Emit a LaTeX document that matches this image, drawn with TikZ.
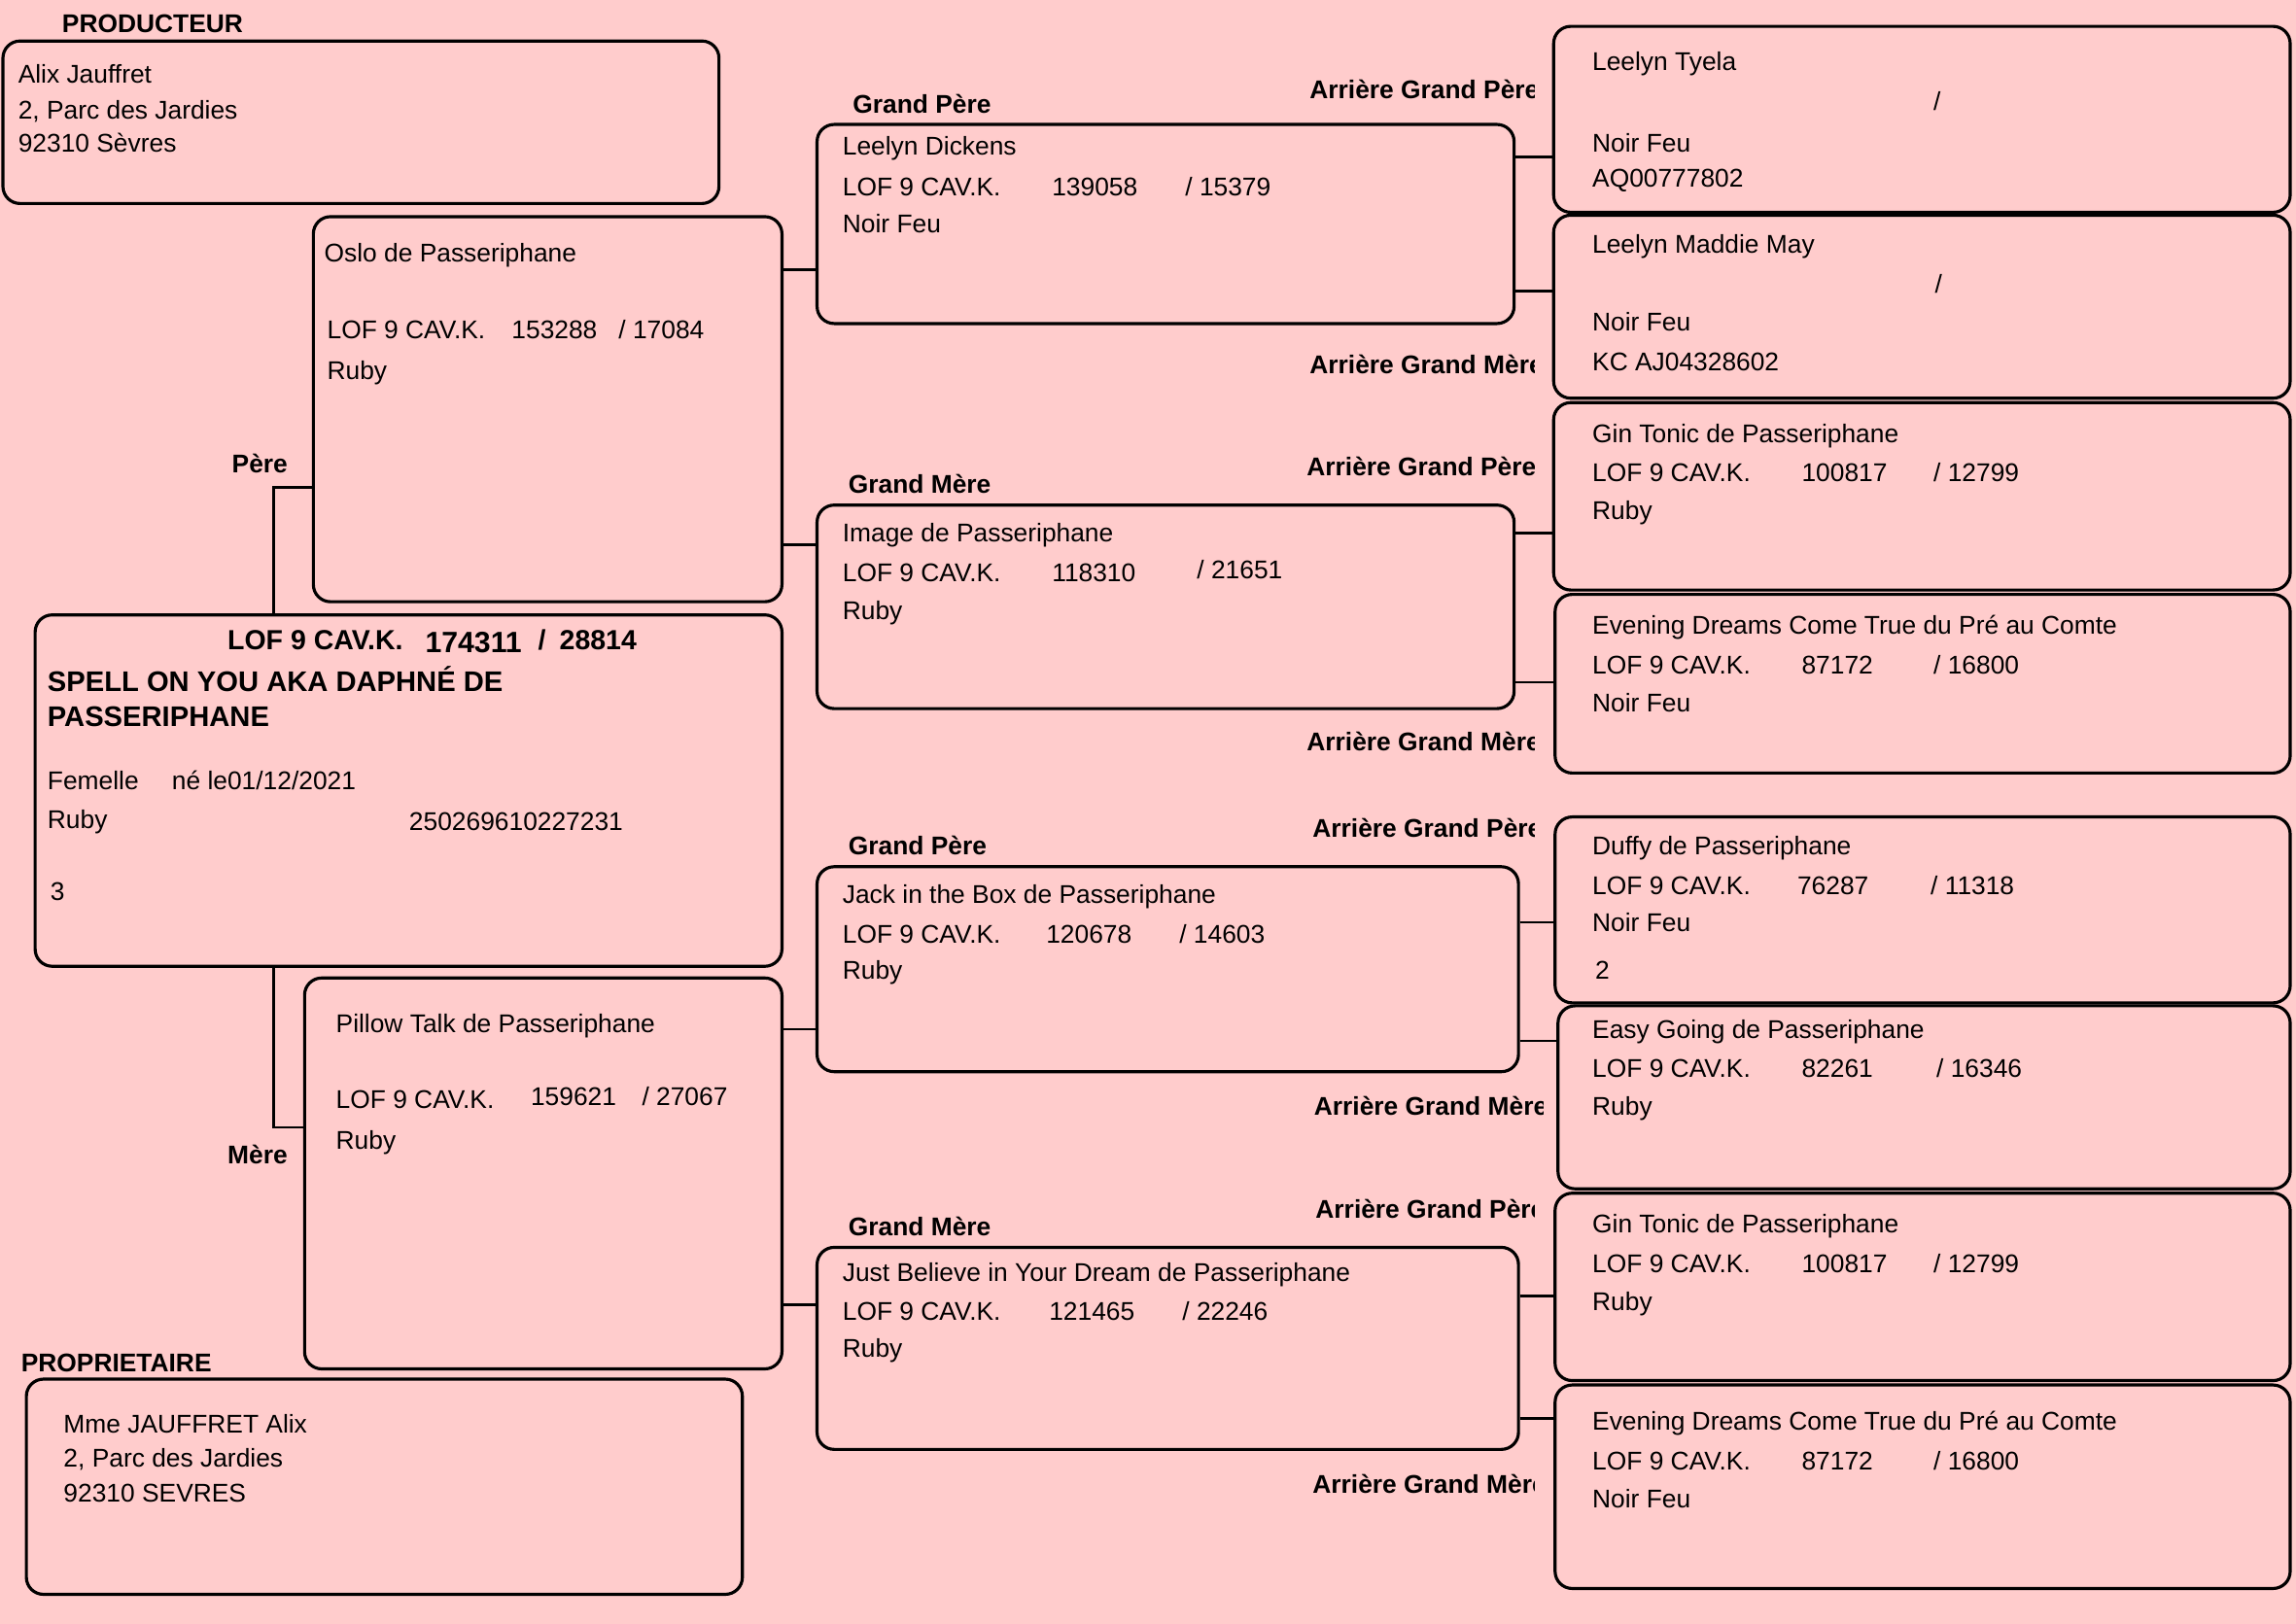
\documentclass[tikz,border=0pt]{standalone}
\usepackage{fontspec}
\setmainfont{Liberation Sans}
\usetikzlibrary{fit}
\definecolor{pinkbg}{HTML}{FFCCCC}

\begin{document}
\begin{tikzpicture}[
    x=0.015064cm, y=-0.015064cm, % units of the reference, y downwards
    box/.style={draw, line width=0.9pt, rounded corners=5pt, fill=pinkbg, inner sep=0pt}, % card of a dog
    link/.style={line width=0.8pt}, % pedigree connector
    txt/.style={anchor=base west, inner sep=0pt, yshift=-0.45pt, font=\fontsize{7.5}{9}\selectfont}, % plain line of a card
    lbl/.style={anchor=base west, inner sep=0pt, yshift=-0.45pt, font=\fontsize{7.5}{9}\selectfont\bfseries}, % heading above a card
    title/.style={anchor=base west, inner sep=0pt, yshift=-0.45pt, font=\fontsize{8.3}{10}\selectfont\bfseries} % name of the dog
]

    % Page background
    \useasboundingbox[fill=pinkbg] (0,0) rectangle (1568,1109);

    % Producer and owner
    \node[lbl] (prodLbl) at (42,21) {PRODUCTEUR};
    \node[box, fit={(2,28) (491,139)}] (prod) {};
    \node[txt] (prod1) at (12,56) {Alix Jauffret};
    \node[txt] (prod2) at (12,80) {2, Parc des Jardies};
    \node[txt] (prod3) at (12,103) {92310 Sèvres};

    \node[lbl] (ownLbl) at (14,936) {PROPRIETAIRE};
    \node[box, fit={(18,942) (507,1089)}] (own) {};
    \node[txt] (own1) at (43,978) {Mme JAUFFRET Alix};
    \node[txt] (own2) at (43,1001) {2, Parc des Jardies};
    \node[txt] (own3) at (43,1025) {92310 SEVRES};

    % The dog itself
    \node[box, fit={(24,420) (534,660)}] (subj) {};
    \node[title, font=\fontsize{8.1}{10}\selectfont\bfseries] (subjLof) at (155,443) {LOF 9 CAV.K.};
    \node[title, font=\fontsize{8.6}{10}\selectfont\bfseries] (subjNum) at (290,445) {174311};
    \node[title, font=\fontsize{8.1}{10}\selectfont\bfseries] (subjSub) at (367,443) {/\enspace 28814};
    \node[title] (subjName1) at (32,471) {SPELL ON YOU AKA DAPHNÉ DE};
    \node[title] (subjName2) at (32,495) {PASSERIPHANE};
    \node[txt] (subjSex) at (32,538) {Femelle};
    \node[txt] (subjBirth) at (117,538) {né le01/12/2021};
    \node[txt] (subjColor) at (32,565) {Ruby};
    \node[txt] (subjChip) at (279,566) {250269610227231};
    \node[txt] (subjNote) at (34,614) {3};

    % Parents
    \node[lbl] (pereLbl) at (158,322) {Père};
    \node[box, fit={(214,148) (534,411)}] (pere) {};
    \node[txt] (pereName) at (221,178) {Oslo de Passeriphane};
    \node[txt] (pereLof) at (223,230) {LOF 9 CAV.K.};
    \node[txt] (pereNum) at (349,230) {153288};
    \node[txt] (pereSub) at (422,230) {/ 17084};
    \node[txt] (pereColor) at (223,258) {Ruby};

    \node[lbl] (mereLbl) at (155,794) {Mère};
    \node[box, fit={(208,668) (534,935)}] (mere) {};
    \node[txt] (mereName) at (229,704) {Pillow Talk de Passeriphane};
    \node[txt] (mereLof) at (229,756) {LOF 9 CAV.K.};
    \node[txt] (mereNum) at (362,754) {159621};
    \node[txt] (mereSub) at (438,754) {/ 27067};
    \node[txt] (mereColor) at (229,784) {Ruby};

    % Grandparents
    \node[lbl] (gp1Lbl) at (582,76) {Grand Père};
    \node[box, fit={(558,85) (1034,221)}] (gp1) {};
    \node[txt] (gp1Name) at (575,105) {Leelyn Dickens};
    \node[txt] (gp1Lof) at (575,133) {LOF 9 CAV.K.};
    \node[txt] (gp1Num) at (718,133) {139058};
    \node[txt] (gp1Sub) at (809,133) {/ 15379};
    \node[txt] (gp1Color) at (575,158) {Noir Feu};

    \node[lbl] (gm1Lbl) at (579,336) {Grand Mère};
    \node[box, fit={(558,345) (1034,484)}] (gm1) {};
    \node[txt] (gm1Name) at (575,369) {Image de Passeriphane};
    \node[txt] (gm1Lof) at (575,396) {LOF 9 CAV.K.};
    \node[txt] (gm1Num) at (718,396) {118310};
    \node[txt] (gm1Sub) at (817,394) {/ 21651};
    \node[txt] (gm1Color) at (575,422) {Ruby};

    \node[lbl] (gp2Lbl) at (579,583) {Grand Père};
    \node[box, fit={(558,592) (1037,732)}] (gp2) {};
    \node[txt] (gp2Name) at (575,616) {Jack in the Box de Passeriphane};
    \node[txt] (gp2Lof) at (575,643) {LOF 9 CAV.K.};
    \node[txt] (gp2Num) at (714,643) {120678};
    \node[txt] (gp2Sub) at (805,643) {/ 14603};
    \node[txt] (gp2Color) at (575,668) {Ruby};

    \node[lbl] (gm2Lbl) at (579,843) {Grand Mère};
    \node[box, fit={(558,852) (1037,990)}] (gm2) {};
    \node[txt] (gm2Name) at (575,874) {Just Believe in Your Dream de Passeriphane};
    \node[txt] (gm2Lof) at (575,901) {LOF 9 CAV.K.};
    \node[txt] (gm2Num) at (716,901) {121465};
    \node[txt] (gm2Sub) at (807,901) {/ 22246};
    \node[txt] (gm2Color) at (575,926) {Ruby};

    % Headings of the great grandparents, cut at the right
    \begin{scope}
        \clip (0,0) rectangle (1048,1109);
        \node[lbl] (agp1Lbl) at (894,66) {Arrière Grand Père};
        \node[lbl] (agm1Lbl) at (894,254) {Arrière Grand Mère};
        \node[lbl] (agp2Lbl) at (892,324) {Arrière Grand Père};
        \node[lbl] (agm2Lbl) at (892,512) {Arrière Grand Mère};
        \node[lbl] (agp3Lbl) at (896,571) {Arrière Grand Père};
        \node[lbl] (agp4Lbl) at (898,831) {Arrière Grand Père};
        \node[lbl] (agm4Lbl) at (896,1019) {Arrière Grand Mère};
    \end{scope}
    \begin{scope}
        \clip (0,0) rectangle (1054,1109);
        \node[lbl] (agm3Lbl) at (897,761) {Arrière Grand Mère};
    \end{scope}

    % Great grandparents
    \node[box, fit={(1061,18) (1564,145)}] (gg1) {};
    \node[txt] (gg1Name) at (1087,47) {Leelyn Tyela};
    \node[txt] (gg1Sub) at (1320,74) {/};
    \node[txt] (gg1Color) at (1087,103) {Noir Feu};
    \node[txt] (gg1Reg) at (1087,127) {AQ00777802};

    \node[box, fit={(1061,147) (1564,272)}] (gg2) {};
    \node[txt] (gg2Name) at (1087,172) {Leelyn Maddie May};
    \node[txt] (gg2Sub) at (1321,199) {/};
    \node[txt] (gg2Color) at (1087,225) {Noir Feu};
    \node[txt] (gg2Reg) at (1087,252) {KC AJ04328602};

    \node[box, fit={(1061,275) (1564,403)}] (gg3) {};
    \node[txt] (gg3Name) at (1087,301) {Gin Tonic de Passeriphane};
    \node[txt] (gg3Lof) at (1087,328) {LOF 9 CAV.K.};
    \node[txt] (gg3Num) at (1230,328) {100817};
    \node[txt] (gg3Sub) at (1320,328) {/ 12799};
    \node[txt] (gg3Color) at (1087,354) {Ruby};

    \node[box, fit={(1062,406) (1564,528)}] (gg4) {};
    \node[txt] (gg4Name) at (1087,432) {Evening Dreams Come True du Pré au Comte};
    \node[txt] (gg4Lof) at (1087,459) {LOF 9 CAV.K.};
    \node[txt] (gg4Num) at (1230,459) {87172};
    \node[txt] (gg4Sub) at (1320,459) {/ 16800};
    \node[txt] (gg4Color) at (1087,485) {Noir Feu};

    \node[box, fit={(1062,558) (1564,685)}] (gg5) {};
    \node[txt] (gg5Name) at (1087,583) {Duffy de Passeriphane};
    \node[txt] (gg5Lof) at (1087,610) {LOF 9 CAV.K.};
    \node[txt] (gg5Num) at (1227,610) {76287};
    \node[txt] (gg5Sub) at (1318,610) {/ 11318};
    \node[txt] (gg5Color) at (1087,635) {Noir Feu};
    \node[txt] (gg5Note) at (1089,668) {2};

    \node[box, fit={(1064,687) (1564,812)}] (gg6) {};
    \node[txt] (gg6Name) at (1087,708) {Easy Going de Passeriphane};
    \node[txt] (gg6Lof) at (1087,735) {LOF 9 CAV.K.};
    \node[txt] (gg6Num) at (1230,735) {82261};
    \node[txt] (gg6Sub) at (1322,735) {/ 16346};
    \node[txt] (gg6Color) at (1087,761) {Ruby};

    \node[box, fit={(1062,815) (1564,943)}] (gg7) {};
    \node[txt] (gg7Name) at (1087,841) {Gin Tonic de Passeriphane};
    \node[txt] (gg7Lof) at (1087,868) {LOF 9 CAV.K.};
    \node[txt] (gg7Num) at (1230,868) {100817};
    \node[txt] (gg7Sub) at (1320,868) {/ 12799};
    \node[txt] (gg7Color) at (1087,894) {Ruby};

    \node[box, fit={(1062,946) (1564,1085)}] (gg8) {};
    \node[txt] (gg8Name) at (1087,976) {Evening Dreams Come True du Pré au Comte};
    \node[txt] (gg8Lof) at (1087,1003) {LOF 9 CAV.K.};
    \node[txt] (gg8Num) at (1230,1003) {87172};
    \node[txt] (gg8Sub) at (1320,1003) {/ 16800};
    \node[txt] (gg8Color) at (1087,1029) {Noir Feu};

    % Connectors: dog to parents
    \draw[link] (subj.north -| 187,0) |- (pere.west |- 0,333);
    \draw[link] (subj.south -| 187,0) |- (mere.west |- 0,770);

    % Parents to grandparents
    \draw[link] (pere.east |- 0,184) -- (gp1.west |- 0,184);
    \draw[link] (pere.east |- 0,372) -- (gm1.west |- 0,372);
    \draw[link] (mere.east |- 0,703) -- (gp2.west |- 0,703);
    \draw[link] (mere.east |- 0,891) -- (gm2.west |- 0,891);

    % Grandparents to great grandparents
    \draw[link] (gp1.east |- 0,107) -- (gg1.west |- 0,107);
    \draw[link] (gp1.east |- 0,199) -- (gg2.west |- 0,199);
    \draw[link] (gm1.east |- 0,364) -- (gg3.west |- 0,364);
    \draw[link] (gm1.east |- 0,466) -- (gg4.west |- 0,466);
    \draw[link] (gp2.east |- 0,630) -- (gg5.west |- 0,630);
    \draw[link] (gp2.east |- 0,711) -- (gg6.west |- 0,711);
    \draw[link] (gm2.east |- 0,885) -- (gg7.west |- 0,885);
    \draw[link] (gm2.east |- 0,969) -- (gg8.west |- 0,969);

\end{tikzpicture}
\end{document}
